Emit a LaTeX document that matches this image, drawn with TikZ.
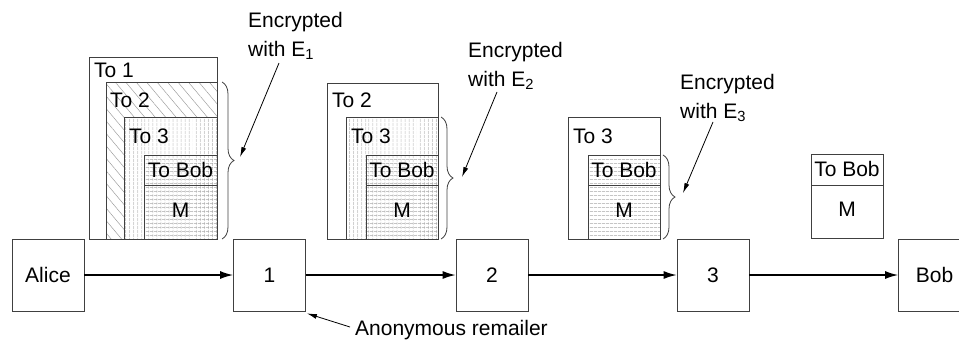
\documentclass[tikz,border=0pt]{standalone}
\usepackage{fontspec}
\setmainfont{Liberation Sans}
\usetikzlibrary{arrows.meta,patterns.meta,decorations.pathreplacing,calc}
\begin{document}
\begin{tikzpicture}[x=1pt,y=-1pt,
  lbl/.style={font=\fontsize{21}{29}\selectfont, inner sep=0pt},
  pkt/.style={draw=black!75, line width=0.8pt, inner sep=0pt, anchor=north west},
  station/.style={draw=black!75, line width=0.8pt, minimum width=72pt, minimum height=72pt, inner sep=0pt, font=\fontsize{21}{25}\selectfont},
  flow/.style={line width=1.4pt, -{Latex[length=13pt,width=8pt]}},
  callout/.style={line width=0.8pt, -{Latex[length=10pt,width=5pt]}},
  brc/.style={draw=black!75, line width=0.8pt, decorate, decoration={brace, amplitude=12pt}},
  divider/.style={draw=black!75, line width=0.8pt},
  whitebg/.style={preaction={fill=white}},
  diag/.style={pattern={Lines[angle=-50,distance=8pt,line width=0.45pt]}, pattern color=black!40},
  vert/.style={pattern={Lines[angle=90,distance=4pt,line width=0.4pt]}, pattern color=black!35},
  horz/.style={pattern={Lines[angle=0,distance=4pt,line width=0.4pt]}, pattern color=black!35},
]
\useasboundingbox (0,0) rectangle (959,343);
\clip (0,0) rectangle (959,343);

% ---------- stack 1 ----------
\node[pkt, fill=white, minimum width=128pt, minimum height=182pt] (s1a) at (89,57) {};
\node[pkt, diag, minimum width=111pt, minimum height=157pt] (s1b) at (106,82) {};
\node[pkt, whitebg, vert, minimum width=93pt, minimum height=122pt] (s1c) at (124,117) {};
\node[pkt, horz, minimum width=73pt, minimum height=84pt] (s1d) at (144,155) {};
\draw[divider] ($(s1d.north west)+(0,30)$) -- ($(s1d.north east)+(0,30)$);
\node[lbl, anchor=west] (t11) at (94,70) {To 1};
\node[lbl, anchor=west] (t12) at (110,100) {To 2};
\node[lbl, anchor=west] (t13) at (129,136) {To 3};
\node[lbl] (t1b) at (180.5,170) {To Bob};
\node[lbl] (t1m) at (180.5,210) {M};
\draw[brc] (222,82) -- (222,239);

% ---------- stack 2 ----------
\node[pkt, fill=white, minimum width=111pt, minimum height=156pt] (s2b) at (327,83) {};
\node[pkt, vert, minimum width=92pt, minimum height=122pt] (s2c) at (346,117) {};
\node[pkt, horz, minimum width=72pt, minimum height=84pt] (s2d) at (366,155) {};
\draw[divider] ($(s2d.north west)+(0,30)$) -- ($(s2d.north east)+(0,30)$);
\node[lbl, anchor=west] (t22) at (332,100) {To 2};
\node[lbl, anchor=west] (t23) at (351,136) {To 3};
\node[lbl] (t2b) at (402,170) {To Bob};
\node[lbl] (t2m) at (402,210) {M};
\draw[brc] (441,117) -- (441,239);

% ---------- stack 3 ----------
\node[pkt, fill=white, minimum width=92pt, minimum height=122pt] (s3c) at (568,117) {};
\node[pkt, horz, minimum width=72pt, minimum height=84pt] (s3d) at (588,155) {};
\draw[divider] ($(s3d.north west)+(0,30)$) -- ($(s3d.north east)+(0,30)$);
\node[lbl, anchor=west] (t33) at (573,136) {To 3};
\node[lbl] (t3b) at (624,170) {To Bob};
\node[lbl] (t3m) at (624,210) {M};
\draw[brc] (663,155) -- (663,239);

% ---------- stack 4 ----------
\node[pkt, fill=white, minimum width=72pt, minimum height=84pt] (s4d) at (811,154) {};
\draw[divider] ($(s4d.north west)+(0,31)$) -- ($(s4d.north east)+(0,31)$);
\node[lbl] (t4b) at (847,169) {To Bob};
\node[lbl] (t4m) at (847,209) {M};

% ---------- stations ----------
\node[station] (alice) at (48,275) {Alice};
\node[station] (r1) at (269.5,275) {1};
\node[station] (r2) at (492,275) {2};
\node[station] (r3) at (713,275) {3};
\node[station] (bob) at (934.5,275) {Bob};
\draw[flow] (alice) -- (r1);
\draw[flow] (r1) -- (r2);
\draw[flow] (r2) -- (r3);
\draw[flow] (r3) -- (bob);

% ---------- labels ----------
\node[lbl, anchor=north west, align=left] (e1) at (248,12) {Encrypted\\with E\textsubscript{1}};
\node[lbl, anchor=north west, align=left] (e2) at (468,42) {Encrypted\\with E\textsubscript{2}};
\node[lbl, anchor=north west, align=left] (e3) at (680,74) {Encrypted\\with E\textsubscript{3}};
\coordinate (a1) at (279,63);
\coordinate (b1) at (240,157);
\coordinate (a2) at (497,92);
\coordinate (b2) at (462,177);
\coordinate (a3) at (713,122);
\coordinate (b3) at (683,193);
\draw[callout] (a1) -- (b1);
\draw[callout] (a2) -- (b2);
\draw[callout] (a3) -- (b3);

\node[lbl, anchor=west] (anon) at (355,330) {Anonymous remailer};
\coordinate (a0) at (350,327);
\draw[callout] (a0) -- ($(r1.south east)+(1,2)$);
\end{tikzpicture}
\end{document}
